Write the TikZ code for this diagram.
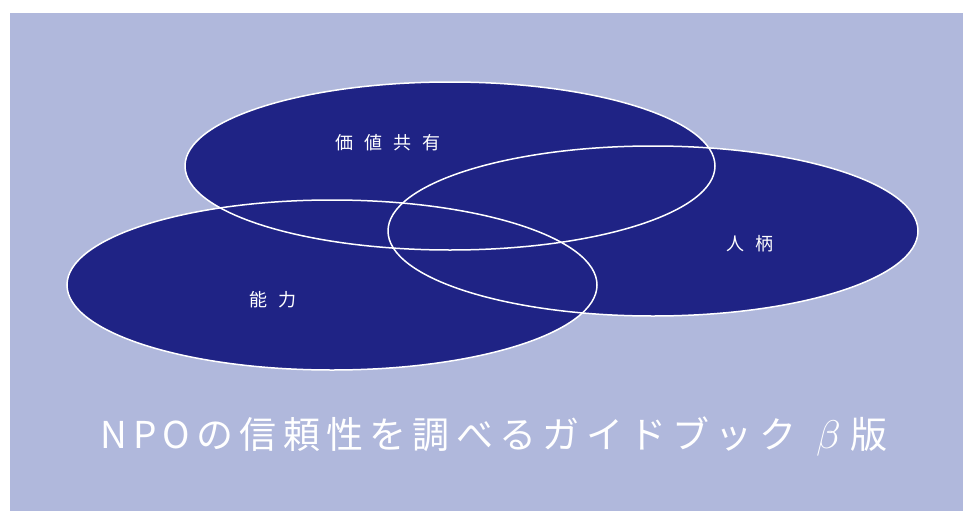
\documentclass[tikz,border=0pt]{standalone}
\usepackage{fontspec}
\setmainfont{Noto Sans CJK JP}
\newfontfamily\cjk{Noto Sans CJK JP}
\newfontfamily\cjkwide[LetterSpace=17]{Noto Sans CJK JP}
\newfontfamily\greekmath{Latin Modern Math}
\definecolor{bglav}{HTML}{B0B8DC}
\definecolor{navy}{HTML}{1F2385}
\begin{document}
\begin{tikzpicture}[x=1pt,y=-1pt,
  blob/.style={fill=navy},
  rim/.style={draw=white,line width=1.5pt},
  lbl/.style={text=white,font=\cjk\fontsize{18}{21}\selectfont,inner sep=0pt},
  ttl/.style={text=white,font=\cjkwide\fontsize{37}{44}\selectfont,inner sep=0pt}]
\useasboundingbox (0,0) rectangle (963,511);
\fill[bglav] (10,13) rectangle (963,511);
\coordinate (ctop) at (450,166);
\coordinate (cright) at (653,231);
\coordinate (cleft) at (332,285);
\fill[blob] (ctop) ellipse [x radius=265pt, y radius=84pt];
\fill[blob] (cright) ellipse [x radius=265pt, y radius=85pt];
\fill[blob] (cleft) ellipse [x radius=265pt, y radius=85pt];
\draw[rim] (ctop) ellipse [x radius=265pt, y radius=84pt];
\draw[rim] (cright) ellipse [x radius=265pt, y radius=85pt];
\draw[rim] (cleft) ellipse [x radius=265pt, y radius=85pt];
\node[lbl] (t1) at (388,143) {価\hspace{11pt}値\hspace{11pt}共\hspace{11pt}有};
\node[lbl] (t2) at (750,244) {人\hspace{11pt}柄};
\node[lbl] (t3) at (273,300) {能\hspace{11pt}力};
\node[ttl] (title) at (494,437) {NPOの信頼性を調べるガイドブック\hspace{20pt}{\greekmath\fontsize{40}{44}\selectfont 𝛽}\hspace{12pt}版};
\end{tikzpicture}
\end{document}
